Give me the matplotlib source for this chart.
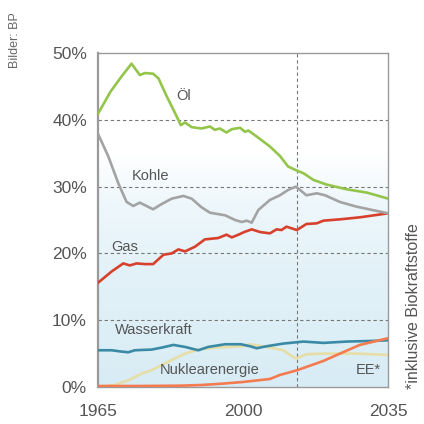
import numpy as np
import matplotlib
matplotlib.use("Agg")
import matplotlib.pyplot as plt
from matplotlib.colors import LinearSegmentedColormap

plt.rcParams['font.family'] = ['Liberation Sans', 'DejaVu Sans']

# ---- data (share of world primary energy, %) ----
oil_years = [1965, 1968, 1970.7, 1973.1, 1975.1, 1976.3, 1978.3, 1979.6, 1981.6, 1983.6, 1985,
             1986, 1987.6, 1990, 1992, 1993.2, 1994.4, 1996, 1997.3, 1999.3, 2000.5, 2001.3,
             2003.3, 2006.5, 2008.9, 2010.9, 2013, 2014.6, 2017, 2020.2, 2025, 2029.9, 2035]
oil_vals = [40.9, 44.2, 46.5, 48.4, 46.7, 47.0, 46.9, 46.2, 43.5, 41.0, 39.2,
            39.6, 38.9, 38.7, 39.0, 38.5, 38.7, 38.1, 38.6, 38.8, 38.2, 38.4,
            37.5, 36.0, 34.6, 33.0, 32.4, 32.0, 31.0, 30.3, 29.6, 29.1, 28.2]

coal_years = [1965, 1967.5, 1969.9, 1971.9, 1973.5, 1975.1, 1976.7, 1978.3, 1980.4, 1982.8,
              1985.6, 1987.6, 1990, 1992, 1995.7, 1998.1, 1999.7, 2000.9, 2002.1, 2003.7,
              2006.5, 2008.9, 2010.9, 2012.8, 2015.3, 2017.8, 2019.8, 2023.4, 2027.4, 2035]
coal_vals = [37.9, 34.5, 30.5, 27.7, 27.1, 27.6, 27.1, 26.6, 27.4, 28.2,
             28.6, 28.2, 26.9, 26.1, 25.7, 25.0, 24.7, 24.9, 24.6, 26.5,
             28.0, 28.7, 29.5, 30.0, 28.7, 29.0, 28.7, 27.7, 27.0, 26.0]

gas_years = [1965, 1968.3, 1971.1, 1972.7, 1974.3, 1976.3, 1978.3, 1980.8, 1982.8, 1984.4,
             1986, 1988.4, 1990.8, 1994, 1996, 1997.3, 1998.9, 2000.3, 2002.1, 2004.1,
             2006.5, 2008.1, 2009.3, 2010.5, 2013, 2015.3, 2017.8, 2019.4, 2023.4, 2028.2, 2035]
gas_vals = [15.6, 17.3, 18.5, 18.2, 18.5, 18.4, 18.4, 19.8, 20.0, 20.6,
            20.3, 21.0, 22.1, 22.3, 22.8, 22.4, 22.8, 23.2, 23.6, 23.2,
            23.0, 23.6, 23.5, 24.0, 23.5, 24.4, 24.5, 24.9, 25.1, 25.4, 26.0]

hydro_years = [1965, 1968.3, 1970.7, 1972.3, 1973.9, 1977.9, 1980.4, 1983.2, 1986, 1989.2,
               1991.6, 1995.7, 1999.5, 2001.7, 2003.3, 2005.7, 2009.7, 2014.6, 2019.4,
               2025, 2031.4, 2035]
hydro_vals = [5.5, 5.5, 5.3, 5.2, 5.5, 5.6, 5.9, 6.3, 6.0, 5.5,
              6.0, 6.4, 6.4, 6.1, 5.8, 6.1, 6.5, 6.8, 6.6,
              6.8, 6.9, 7.0]

nuclear_years = [1965, 1969.1, 1972.3, 1975.5, 1977.9, 1980.4, 1983.6, 1986, 1989.2, 1993.2,
                 1997.3, 1999.7, 2001.7, 2005.7, 2009.7, 2012.5, 2013.3, 2015.3, 2019.4,
                 2027.4, 2035]
nuclear_vals = [0.0, 0.3, 1.0, 2.0, 2.5, 3.3, 4.3, 5.0, 5.6, 5.9,
                6.0, 6.1, 6.4, 6.0, 5.5, 4.3, 4.4, 4.9, 5.0,
                5.0, 4.8]

ee_years = [1965, 1975, 1985, 1990, 1995, 2000, 2006.5, 2008.9, 2013, 2019.4, 2023.4, 2028.2, 2035]
ee_vals = [0.15, 0.15, 0.2, 0.3, 0.5, 0.75, 1.2, 1.8, 2.5, 3.9, 5.0, 6.3, 7.3]

y_ticks = [0, 10, 20, 30, 40, 50]
y_ticklabels = ["0%", "10%", "20%", "30%", "40%", "50%"]
x_ticks = [1965, 2000, 2035]
x_ticklabels = ["1965", "2000", "2035"]
divider_year = 2013

# ---- figure ----
fig = plt.figure(figsize=(4.24, 4.24), dpi=100)
ax = fig.add_axes([98/424, 1 - 387/424, 290/424, 334/424])
ax.set_xlim(1965, 2035)
ax.set_ylim(0, 50)

# background gradient (light blue bottom fading to white)
cmap = LinearSegmentedColormap.from_list(
    "bg", [(0.0, "#d8ecf5"), (0.35, "#e3f2f8"), (0.55, "#eef7fb"), (0.70, "#ffffff"), (1.0, "#ffffff")])
grad = np.linspace(0, 1, 256).reshape(-1, 1)
ax.imshow(grad, cmap=cmap, origin="lower", aspect="auto",
          extent=[1965, 2035, 0, 50], zorder=0)

# grid
for yv in [10, 20, 30, 40]:
    ax.axhline(yv, color="#777777", lw=0.8, ls=(0, (3, 2.5)), zorder=1)
ax.axvline(divider_year, color="#777777", lw=0.8, ls=(0, (3, 2.5)), zorder=1)

lw = 1.9
ax.plot(nuclear_years, nuclear_vals, color="#e6dea6", lw=lw, zorder=2)
ax.plot(hydro_years, hydro_vals, color="#3a8aa6", lw=lw, zorder=3)
ax.plot(ee_years, ee_vals, color="#f47a4f", lw=lw, zorder=4)
ax.plot(gas_years, gas_vals, color="#d7402c", lw=lw, zorder=3)
ax.plot(coal_years, coal_vals, color="#a3a3a3", lw=lw, zorder=3)
ax.plot(oil_years, oil_vals, color="#93c54b", lw=lw, zorder=3)

lab = dict(color="#555555", fontsize=10.5, va="center")
ax.text(1984.0, 43.5, "Öl", ha="left", **lab)
ax.text(1973.1, 31.6, "Kohle", ha="left", **lab)
ax.text(1968.3, 21.0, "Gas", ha="left", **lab)
ax.text(1969.1, 8.5, "Wasserkraft", ha="left", **lab)
ax.text(1980.0, 2.5, "Nuklearenergie", ha="left", **lab)
ax.text(2033.2, 2.5, "EE*", ha="right", **lab)

for s in ax.spines.values():
    s.set_color("#9a9a9a")
    s.set_linewidth(1.0)
ax.spines["left"].set_linewidth(1.6)

ax.set_yticks(y_ticks)
ax.set_yticklabels(y_ticklabels)
ax.set_xticks(x_ticks)
ax.set_xticklabels(x_ticklabels)
ax.tick_params(axis="both", length=0, labelsize=12.5, labelcolor="#555555")
ax.tick_params(axis="y", pad=8)
ax.tick_params(axis="x", pad=12)

fig.text(15/424, 1 - 40/424, "Bilder: BP", rotation=90, ha="center", va="center",
         fontsize=9, color="#666666")
fig.text(414/424, 1 - 389/424, "*inklusive Biokraftstoffe", rotation=90, ha="center",
         va="bottom", fontsize=11.5, color="#555555")

fig.savefig("out.png", dpi=100)
